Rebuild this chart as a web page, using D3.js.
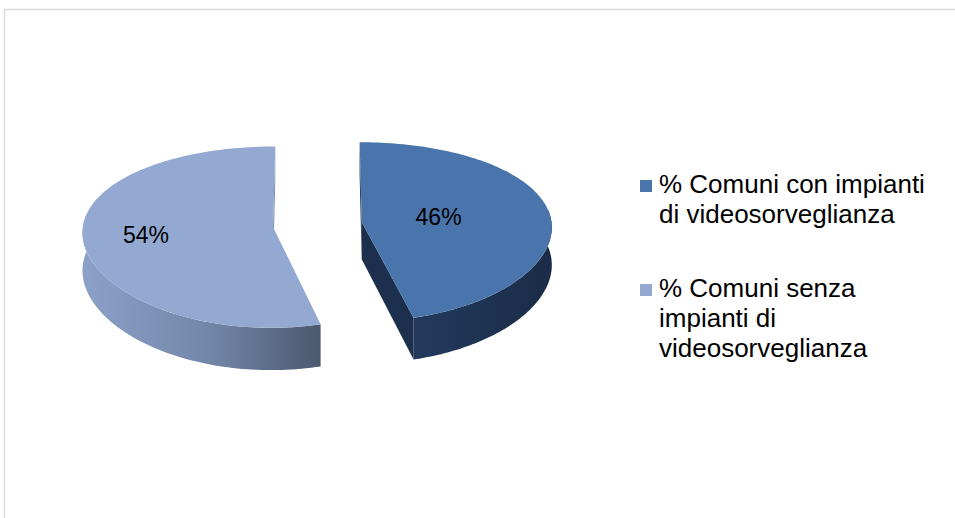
<!DOCTYPE html>
<html>
<head>
<meta charset="utf-8">
<script src="https://cdn.jsdelivr.net/npm/d3@7"></script>
<style>
  html, body { margin: 0; padding: 0; background: #ffffff; }
  svg { display: block; font-family: "Liberation Sans", Arial, sans-serif; }
</style>
</head>
<body>
<script>
// Data
const categories = ["% Comuni con impianti di videosorveglianza", "% Comuni senza impianti di videosorveglianza"];
const values = [46, 54];
const valueLabels = ["46%", "54%"];
const legendLines = [
  ["% Comuni con impianti", "di videosorveglianza"],
  ["% Comuni senza", "impianti di", "videosorveglianza"]
];

// Styling
const topColors = ["#4A75AC", "#93A9D2"];
const sideStops = [
  [["0%", "#233A5C"], ["100%", "#1A2C47"]],
  [["0%", "#8CA1C8"], ["55%", "#7185A7"], ["100%", "#4B586F"]]
];
const cutColors = ["#1C2F4D", "#7284A4"];
const labelRadius = [0.41, 0.67];

const W = 955, H = 518;
const svg = d3.select("body").append("svg").attr("width", W).attr("height", H);

// Chart frame
svg.append("rect")
  .attr("x", 4.5).attr("y", 9.5)
  .attr("width", 1000).attr("height", 600)
  .attr("fill", "none").attr("stroke", "#D9D9D9").attr("stroke-width", 1.5);

// 3D projection of the pie disk
const cx = 317.5, cy = 224.5, rx = 190, ry = 89, thick = 37.5;
const qx = 0.05, qy = 0.11, explode = 0.235;
const xScale = d3.scaleLinear().domain([-1, 1]).range([cx - rx, cx + rx]);
const yScale = d3.scaleLinear().domain([-1, 1]).range([cy - ry, cy + ry]);
function proj(X, Z, h) {
  const sx = 1 / (1 - qx * Z), sy = 1 / (1 - qy * Z);
  return [xScale(X * sx), yScale(Z * sy) + thick * h * sy];
}

const arcs = d3.pie().sort(null).value(d => d)(values);
const defs = svg.append("defs");
const line = d3.line();
const viewer = [0, 1 / qy];

arcs.forEach((a, i) => {
  const mid = (a.startAngle + a.endAngle) / 2;
  const ox = explode * Math.sin(mid), oz = -explode * Math.cos(mid);
  const pt = (t, r, h) => proj(ox + r * Math.sin(t), oz - r * Math.cos(t), h);
  const g = svg.append("g");

  // curved outer side (front half only)
  const s0 = Math.max(a.startAngle, Math.PI / 2 - 0.15);
  const s1 = Math.min(a.endAngle, 3 * Math.PI / 2 + 0.15);
  if (s1 > s0) {
    const n = 80;
    const topPts = d3.range(n + 1).map(k => pt(s0 + (s1 - s0) * k / n, 1, 0));
    const botPts = d3.range(n + 1).map(k => pt(s1 - (s1 - s0) * k / n, 1, 1));
    const xs = topPts.map(p => p[0]);
    const gid = "side" + i;
    const grad = defs.append("linearGradient").attr("id", gid)
      .attr("gradientUnits", "userSpaceOnUse")
      .attr("x1", d3.min(xs)).attr("x2", d3.max(xs)).attr("y1", 0).attr("y2", 0);
    sideStops[i].forEach(s => grad.append("stop").attr("offset", s[0]).attr("stop-color", s[1]));
    g.append("path").attr("d", line(topPts.concat(botPts)) + "Z").attr("fill", `url(#${gid})`);
  }

  // flat cut faces along the two radii, drawn when facing the viewer
  [[a.startAngle, -1], [a.endAngle, 1]].forEach(([t, sgn]) => {
    const nx = sgn * Math.cos(t), nz = sgn * Math.sin(t);
    const dot = (viewer[0] - ox) * nx + (viewer[1] - oz) * nz;
    if (dot > 0) {
      const face = [pt(t, 0, 0), pt(t, 1, 0), pt(t, 1, 1), pt(t, 0, 1)];
      g.append("path").attr("d", line(face) + "Z").attr("fill", cutColors[i]);
    }
  });

  // top surface
  const n = 120;
  const rim = d3.range(n + 1).map(k => pt(a.startAngle + (a.endAngle - a.startAngle) * k / n, 1, 0));
  g.append("path").attr("d", line([pt(0, 0, 0)].concat(rim)) + "Z").attr("fill", topColors[i]);

  // value label
  const lp = pt(mid, labelRadius[i], 0);
  g.append("text")
    .attr("x", lp[0]).attr("y", lp[1])
    .attr("text-anchor", "middle").attr("dominant-baseline", "central")
    .attr("font-size", 23).attr("fill", "#000")
    .text(valueLabels[i]);
});

// Legend
const legendTop = [180, 284];
const legend = svg.append("g");
categories.forEach((c, i) => {
  const gi = legend.append("g");
  gi.append("rect")
    .attr("x", 640).attr("y", legendTop[i])
    .attr("width", 12).attr("height", 12)
    .attr("fill", topColors[i]);
  legendLines[i].forEach((t, j) => {
    gi.append("text")
      .attr("x", 659).attr("y", legendTop[i] + 13 + j * 30)
      .attr("font-size", 26).attr("fill", "#000")
      .text(t);
  });
});
</script>
</body>
</html>
